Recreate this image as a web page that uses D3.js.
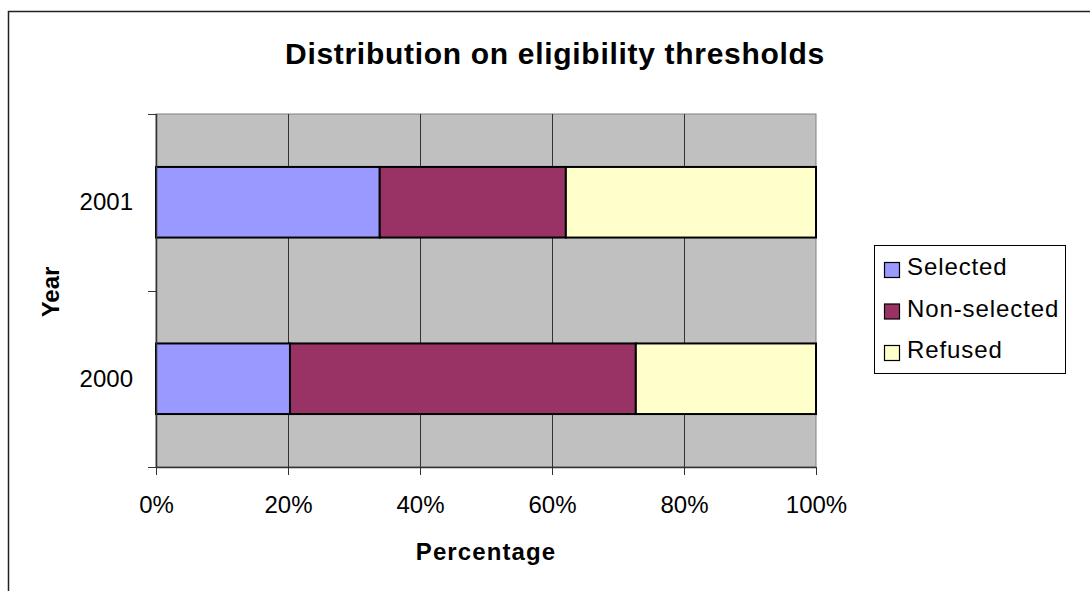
<!DOCTYPE html>
<html>
<head>
<meta charset="utf-8">
<script src="https://cdn.jsdelivr.net/npm/d3@7"></script>
<style>
  html, body { margin: 0; padding: 0; background: #fff; }
  svg { display: block; font-family: Arial, "Liberation Sans", sans-serif; }
</style>
</head>
<body>
<svg id="chart" width="1090" height="591"></svg>
<script>
// Chart data
const years = ["2001", "2000"];
const seriesNames = ["Selected", "Non-selected", "Refused"];
const seriesColors = ["#9999FF", "#993366", "#FFFFCC"];
const selected = [33.9, 20.3];
const nonSelected = [28.2, 52.4];
const refused = [37.9, 27.3];
const xTicks = [0, 20, 40, 60, 80, 100];

const svg = d3.select("#chart");

// Outer chart frame (extends past the window on the right and bottom)
svg.append("rect")
  .attr("x", 8.5).attr("y", 11.5)
  .attr("width", 1200).attr("height", 700)
  .attr("fill", "#fff").attr("stroke", "#222").attr("stroke-width", 1.5);

const plot = { left: 156, right: 816, top: 114, bottom: 467 };

const x = d3.scaleLinear().domain([0, 100]).range([plot.left, plot.right]);
const y = d3.scaleBand().domain(years)
  .range([plot.top, plot.bottom])
  .paddingInner(0.6).paddingOuter(0.3);

// Plot background
svg.append("rect")
  .attr("x", plot.left).attr("y", plot.top)
  .attr("width", plot.right - plot.left).attr("height", plot.bottom - plot.top)
  .attr("fill", "#C0C0C0").attr("stroke", "#808080").attr("stroke-width", 1);

// Vertical gridlines
svg.append("g").selectAll("line")
  .data(xTicks.filter(t => t > 0 && t < 100))
  .join("line")
  .attr("x1", d => Math.round(x(d)) + 0.5).attr("x2", d => Math.round(x(d)) + 0.5)
  .attr("y1", plot.top).attr("y2", plot.bottom)
  .attr("stroke", "#333").attr("stroke-width", 1);

// Stacked bars
const rows = years.map((yr, i) => ({
  year: yr, Selected: selected[i], "Non-selected": nonSelected[i], Refused: refused[i]
}));
const stack = d3.stack().keys(seriesNames)(rows);

svg.append("g").selectAll("g")
  .data(stack)
  .join("g")
  .attr("fill", (d, i) => seriesColors[i])
  .selectAll("rect")
  .data(d => d)
  .join("rect")
  .attr("x", d => x(d[0]))
  .attr("y", d => y(d.data.year))
  .attr("width", d => x(d[1]) - x(d[0]))
  .attr("height", y.bandwidth())
  .attr("stroke", "#000").attr("stroke-width", 2);

// X axis
const xAxis = d3.axisBottom(x)
  .tickValues(xTicks)
  .tickFormat(d => d + "%")
  .tickSize(8).tickSizeOuter(0);
const gx = svg.append("g")
  .attr("transform", `translate(0,${plot.bottom})`)
  .call(xAxis);
gx.select(".domain").attr("stroke", "#333").attr("stroke-width", 1.5);
gx.selectAll(".tick line").attr("stroke", "#333");
gx.selectAll(".tick text")
  .attr("font-size", 24).attr("fill", "#000")
  .attr("font-family", "Arial, 'Liberation Sans', sans-serif")
  .attr("dy", 0).attr("y", 46);

// Y axis: ticks at category boundaries
const gy = svg.append("g");
gy.append("line")
  .attr("x1", plot.left + 0.5).attr("x2", plot.left + 0.5)
  .attr("y1", plot.top).attr("y2", plot.bottom + 1)
  .attr("stroke", "#333").attr("stroke-width", 1.5);
const boundaries = [plot.top, (y("2001") + y.bandwidth() + y("2000")) / 2, plot.bottom];
gy.selectAll("line.tk")
  .data(boundaries)
  .join("line").attr("class", "tk")
  .attr("x1", plot.left - 8).attr("x2", plot.left)
  .attr("y1", d => Math.round(d) + 0.5).attr("y2", d => Math.round(d) + 0.5)
  .attr("stroke", "#333");
gy.selectAll("text")
  .data(years)
  .join("text")
  .attr("x", 133)
  .attr("y", d => y(d) + y.bandwidth() / 2 + 8)
  .attr("text-anchor", "end")
  .attr("font-size", 24)
  .text(d => d);

// Title
svg.append("text")
  .attr("x", 555).attr("y", 64)
  .attr("text-anchor", "middle")
  .attr("font-size", 30).attr("font-weight", "bold")
  .attr("letter-spacing", 0.7)
  .text("Distribution on eligibility thresholds");

// Axis titles
svg.append("text")
  .attr("x", 486).attr("y", 560)
  .attr("text-anchor", "middle")
  .attr("font-size", 24).attr("font-weight", "bold")
  .attr("letter-spacing", 1.1)
  .text("Percentage");

svg.append("text")
  .attr("transform", "translate(59,292) rotate(-90)")
  .attr("text-anchor", "middle")
  .attr("font-size", 24).attr("font-weight", "bold")
  .text("Year");

// Legend
const legend = svg.append("g");
legend.append("rect")
  .attr("x", 874.5).attr("y", 245.5)
  .attr("width", 191).attr("height", 128)
  .attr("fill", "#fff").attr("stroke", "#000").attr("stroke-width", 1);
const items = legend.selectAll("g.item")
  .data(seriesNames)
  .join("g").attr("class", "item")
  .attr("transform", (d, i) => `translate(884,${262 + i * 41.5})`);
items.append("rect")
  .attr("x", 0.5).attr("y", 0.5)
  .attr("width", 15).attr("height", 15)
  .attr("fill", (d, i) => seriesColors[i])
  .attr("stroke", "#000").attr("stroke-width", 1.2);
items.append("text")
  .attr("x", 23).attr("y", 13)
  .attr("font-size", 24)
  .attr("letter-spacing", 0.9)
  .text(d => d);
</script>
</body>
</html>
